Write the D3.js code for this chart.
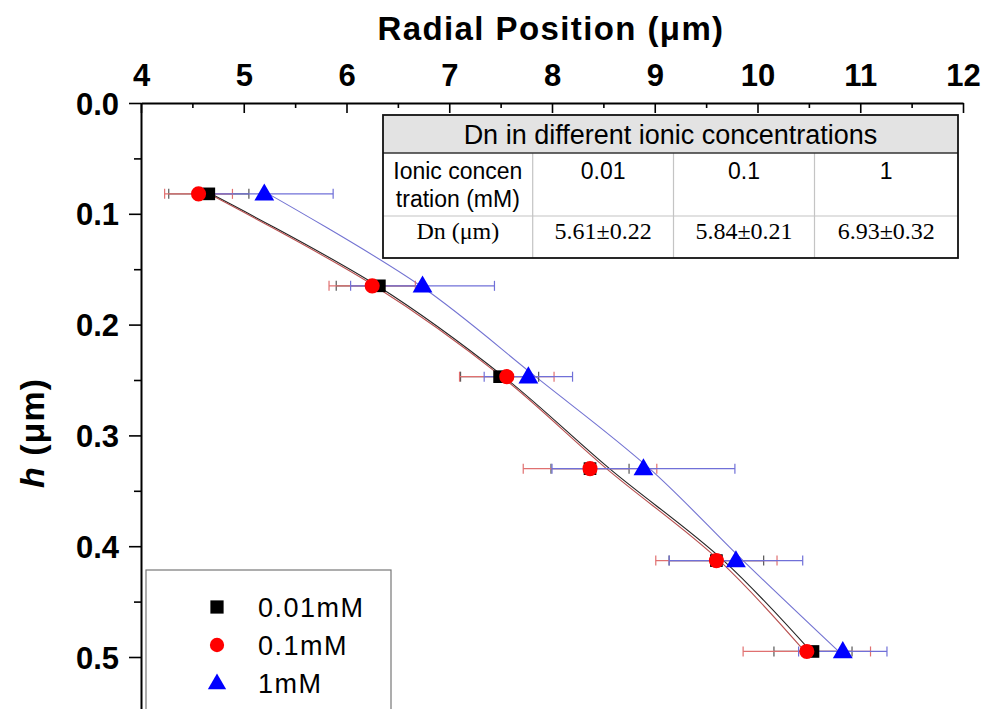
<!DOCTYPE html>
<html>
<head>
<meta charset="utf-8">
<script src="https://cdn.jsdelivr.net/npm/d3@7"></script>
<style>
  body { margin: 0; background: #fff; }
  svg { display: block; font-family: "Liberation Sans", Arial, sans-serif; }
</style>
</head>
<body>
<div id="chart"></div>
<script>
// depth levels (h, um) shared by all series
const hLevels = [0.082, 0.165, 0.247, 0.330, 0.413, 0.495];

// radial positions (um) and error half widths
const radial001 = [4.66, 6.32, 7.49, 8.37, 9.60, 10.54];
const err001 = [0.39, 0.42, 0.38, 0.38, 0.46, 0.38];
const radial01 = [4.56, 6.25, 7.56, 8.37, 9.60, 10.48];
const err01 = [0.33, 0.42, 0.46, 0.65, 0.59, 0.62];
const radial1 = [5.20, 6.74, 7.77, 8.89, 9.79, 10.83];
const err1 = [0.67, 0.70, 0.43, 0.89, 0.65, 0.43];

// fitted curves read at the same depths
const fit001 = [4.68, 6.30, 7.53, 8.56, 9.67, 10.52];
const fit01 = [4.66, 6.27, 7.51, 8.53, 9.63, 10.46];
const fit1 = [5.24, 6.72, 7.84, 8.95, 9.86, 10.79];

const seriesNames = ["0.01mM", "0.1mM", "1mM"];

// inset table
const tableTitle = "Dn in different ionic concentrations";
const tableConc = ["0.01", "0.1", "1"];
const tableDn = ["5.61\u00b10.22", "5.84\u00b10.21", "6.93\u00b10.32"];

const xTicks = [4, 5, 6, 7, 8, 9, 10, 11, 12];
const yTicks = [0.0, 0.1, 0.2, 0.3, 0.4, 0.5];

const width = 984, height = 709;
const plotLeft = 141, plotRight = 963, plotTop = 103;

const svg = d3.select("#chart").append("svg")
    .attr("width", width)
    .attr("height", height);

const x = d3.scaleLinear().domain([4, 12]).range([plotLeft, plotRight]);
const y = d3.scaleLinear().domain([0, 0.55]).range([plotTop, plotTop + 0.55 * 1108]);

const series = [
    { name: seriesNames[0], vals: radial001, err: err001, fit: fit001, color: "#000", bar: "#555", line: "#222", shape: "square" },
    { name: seriesNames[1], vals: radial01, err: err01, fit: fit01, color: "#ff0000", bar: "#e07070", line: "#b85050", shape: "circle" },
    { name: seriesNames[2], vals: radial1, err: err1, fit: fit1, color: "#0000ff", bar: "#7070d8", line: "#7373d2", shape: "triangle" }
];

// fit curves
const fitLine = d3.line()
    .x(d => x(d[1]))
    .y(d => y(d[0]))
    .curve(d3.curveCatmullRom);

svg.append("g").selectAll("path")
    .data(series)
    .enter().append("path")
    .attr("d", s => fitLine(hLevels.map((h, i) => [h, s.fit[i]])))
    .attr("fill", "none")
    .attr("stroke", s => s.line)
    .attr("stroke-width", 1.1);

// error bars
const capH = 5;
series.forEach(s => {
    const g = svg.append("g").attr("stroke", s.bar).attr("stroke-width", 1.2);
    hLevels.forEach((h, i) => {
        const x0 = x(s.vals[i] - s.err[i]), x1 = x(s.vals[i] + s.err[i]), yy = y(h);
        g.append("line").attr("x1", x0).attr("x2", x1).attr("y1", yy).attr("y2", yy);
        g.append("line").attr("x1", x0).attr("x2", x0).attr("y1", yy - capH).attr("y2", yy + capH);
        g.append("line").attr("x1", x1).attr("x2", x1).attr("y1", yy - capH).attr("y2", yy + capH);
    });
});

// markers
const symbolGen = {
    square: d3.symbol().type(d3.symbolSquare).size(160),
    circle: d3.symbol().type(d3.symbolCircle).size(180),
    triangle: d3.symbol().type(d3.symbolTriangle).size(170)
};

series.forEach(s => {
    svg.append("g").selectAll("path")
        .data(hLevels.map((h, i) => [h, s.vals[i]]))
        .enter().append("path")
        .attr("d", symbolGen[s.shape])
        .attr("transform", d => `translate(${x(d[1])},${y(d[0]) + (s.shape === "triangle" ? 1 : 0)})`)
        .attr("fill", s.color);
});

// axes
const xAxis = svg.append("g")
    .attr("transform", `translate(0,${plotTop})`)
    .call(d3.axisTop(x).tickValues(xTicks).tickFormat(d3.format("d")).tickSize(-10).tickSizeOuter(0).tickPadding(17));
svg.append("g")
    .attr("transform", `translate(0,${plotTop})`)
    .call(d3.axisTop(x).tickValues(d3.range(4.5, 12, 1)).tickFormat("").tickSize(-5).tickSizeOuter(0))
    .call(g => g.select(".domain").remove());

const yAxis = svg.append("g")
    .attr("transform", `translate(${plotLeft},0)`)
    .call(d3.axisLeft(y).tickValues(yTicks).tickFormat(d3.format(".1f")).tickSize(12).tickSizeOuter(0).tickPadding(10));
svg.append("g")
    .attr("transform", `translate(${plotLeft},0)`)
    .call(d3.axisLeft(y).tickValues([0.05, 0.15, 0.25, 0.35, 0.45]).tickFormat("").tickSize(7).tickSizeOuter(0))
    .call(g => g.select(".domain").remove());

svg.selectAll(".domain").attr("stroke", "#000").attr("stroke-width", 2);
svg.selectAll(".tick line").attr("stroke", "#000").attr("stroke-width", 1.6);
svg.selectAll(".tick text")
    .attr("fill", "#000")
    .style("font-family", "'Liberation Sans', Arial, sans-serif")
    .style("font-weight", "bold")
    .style("font-size", "31px");
yAxis.selectAll(".tick text").attr("dy", "0.36em");

// axis titles
svg.append("text")
    .attr("x", 551)
    .attr("y", 40)
    .attr("text-anchor", "middle")
    .style("font-weight", "bold")
    .style("font-size", "33px")
    .style("letter-spacing", "1.4px")
    .text("Radial Position (\u03bcm)");

const yTitle = svg.append("text")
    .attr("transform", "translate(44,433) rotate(-90)")
    .attr("text-anchor", "middle")
    .style("font-weight", "bold")
    .style("font-size", "34px")
    .style("letter-spacing", "1px");
yTitle.append("tspan").style("font-style", "italic").text("h");
yTitle.append("tspan").text(" (\u03bcm)");

// inset table
const tx = [383, 532.7, 673.5, 814.5, 958];
const ty = [115, 153, 216, 258];
const table = svg.append("g");
table.append("rect")
    .attr("x", tx[0]).attr("y", ty[0])
    .attr("width", tx[4] - tx[0]).attr("height", ty[1] - ty[0])
    .attr("fill", "#e3e3e3");
table.append("rect")
    .attr("x", tx[0]).attr("y", ty[1])
    .attr("width", tx[4] - tx[0]).attr("height", ty[3] - ty[1])
    .attr("fill", "#fff");
[1, 2, 3].forEach(c => {
    table.append("line")
        .attr("x1", tx[c]).attr("x2", tx[c])
        .attr("y1", ty[1]).attr("y2", ty[3])
        .attr("stroke", "#c4c4c4").attr("stroke-width", 1.2);
});
table.append("line")
    .attr("x1", tx[0]).attr("x2", tx[4])
    .attr("y1", ty[2]).attr("y2", ty[2])
    .attr("stroke", "#c4c4c4").attr("stroke-width", 1.2);
table.append("line")
    .attr("x1", tx[0]).attr("x2", tx[4])
    .attr("y1", ty[1]).attr("y2", ty[1])
    .attr("stroke", "#333").attr("stroke-width", 1.4);
table.append("rect")
    .attr("x", tx[0]).attr("y", ty[0])
    .attr("width", tx[4] - tx[0]).attr("height", ty[3] - ty[0])
    .attr("fill", "none")
    .attr("stroke", "#111").attr("stroke-width", 1.8);

table.append("text")
    .attr("x", (tx[0] + tx[4]) / 2).attr("y", 144)
    .attr("text-anchor", "middle")
    .style("font-size", "27px")
    .text(tableTitle);

const conc = table.append("text")
    .attr("x", (tx[0] + tx[1]) / 2)
    .attr("text-anchor", "middle")
    .style("font-size", "23px");
conc.append("tspan").attr("x", (tx[0] + tx[1]) / 2).attr("y", 179).text("Ionic concen");
conc.append("tspan").attr("x", (tx[0] + tx[1]) / 2).attr("y", 207).text("tration (mM)");

tableConc.forEach((v, i) => {
    table.append("text")
        .attr("x", (tx[i + 1] + tx[i + 2]) / 2).attr("y", 179)
        .attr("text-anchor", "middle")
        .style("font-size", "23px")
        .text(v);
});

table.append("text")
    .attr("x", (tx[0] + tx[1]) / 2).attr("y", 239)
    .attr("text-anchor", "middle")
    .style("font-family", "'Liberation Serif', 'Times New Roman', serif")
    .style("font-size", "24px")
    .text("Dn (\u03bcm)");

tableDn.forEach((v, i) => {
    table.append("text")
        .attr("x", (tx[i + 1] + tx[i + 2]) / 2).attr("y", 239)
        .attr("text-anchor", "middle")
        .style("font-family", "'Liberation Serif', 'Times New Roman', serif")
        .style("font-size", "24px")
        .text(v);
});

// legend
const legend = svg.append("g");
legend.append("rect")
    .attr("x", 146).attr("y", 570)
    .attr("width", 245).attr("height", 160)
    .attr("fill", "#fff")
    .attr("stroke", "#777").attr("stroke-width", 1.2);

const legendSym = {
    square: d3.symbol().type(d3.symbolSquare).size(175),
    circle: d3.symbol().type(d3.symbolCircle).size(160),
    triangle: d3.symbol().type(d3.symbolTriangle).size(145)
};

series.forEach((s, i) => {
    const ly = 607 + i * 38;
    legend.append("path")
        .attr("d", legendSym[s.shape])
        .attr("transform", `translate(217,${ly + (s.shape === "triangle" ? 1 : 0)})`)
        .attr("fill", s.color);
    legend.append("text")
        .attr("x", 258).attr("y", ly)
        .attr("dy", "0.36em")
        .style("font-size", "27px")
        .style("letter-spacing", "1.5px")
        .text(s.name);
});
</script>
</body>
</html>
